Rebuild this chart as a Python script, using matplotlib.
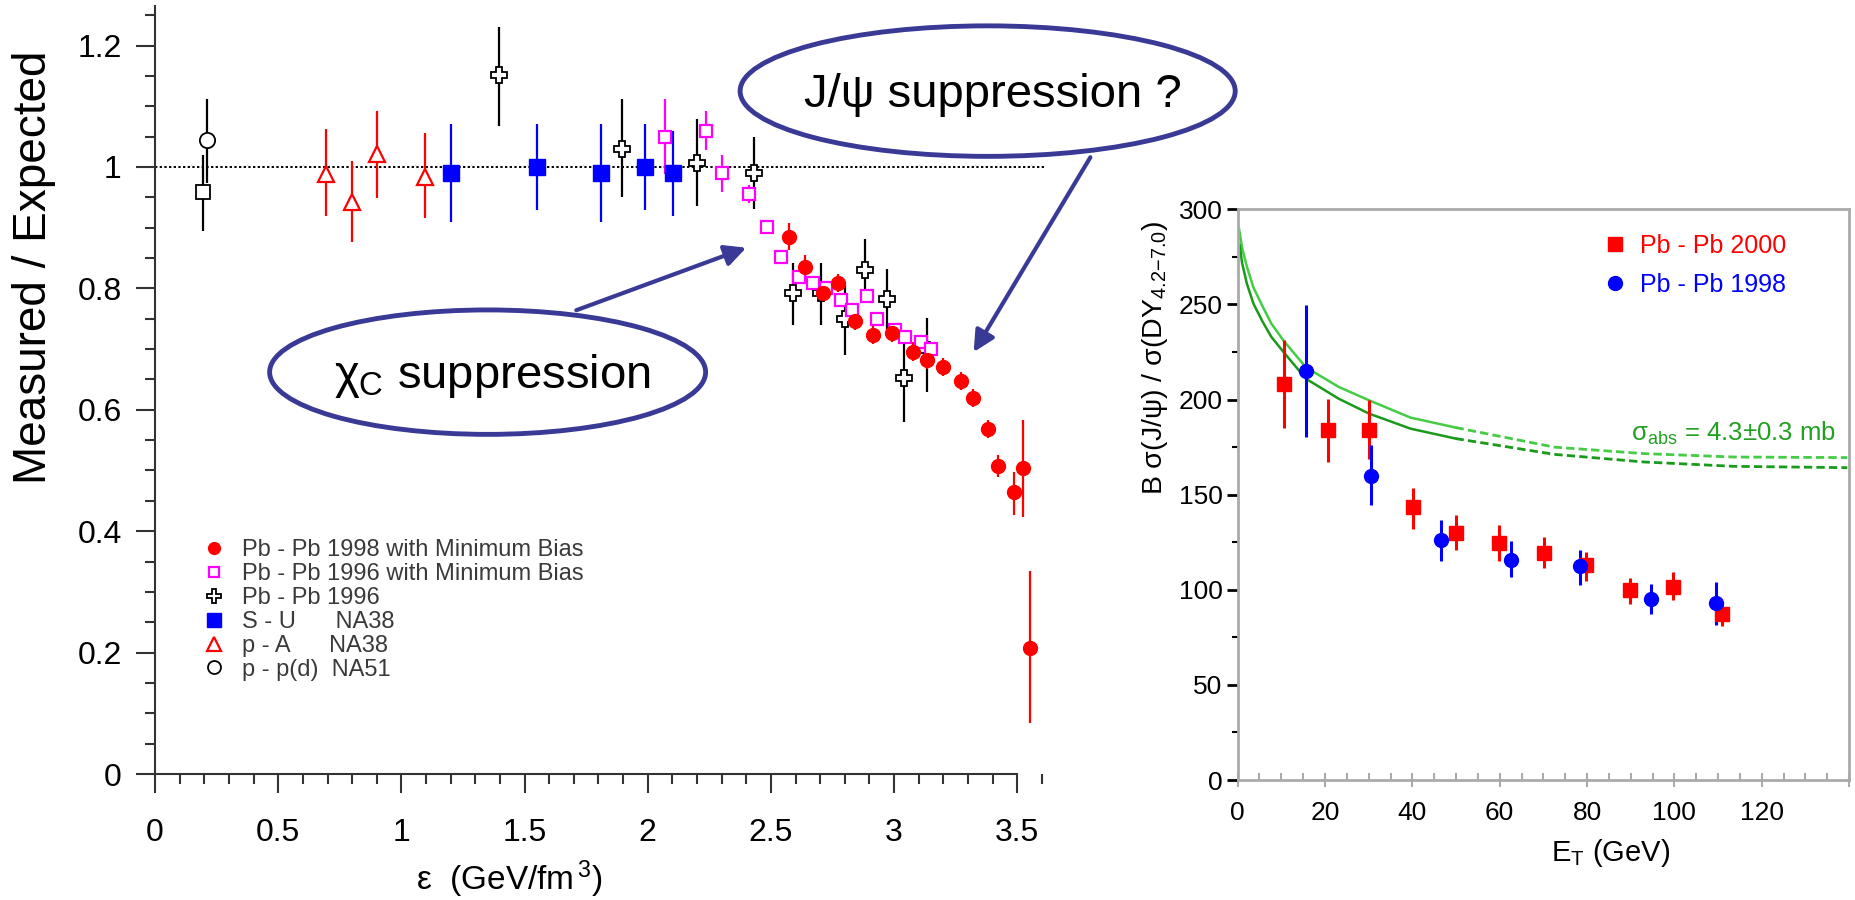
import matplotlib
matplotlib.use('Agg')
from matplotlib import pyplot as plt
from matplotlib.lines import Line2D
from matplotlib.patches import Ellipse
from matplotlib.ticker import MultipleLocator
import numpy as np

plt.rcParams['font.family'] = ['Liberation Sans', 'DejaVu Sans']
plt.rcParams['mathtext.fontset'] = 'custom'
plt.rcParams['mathtext.rm'] = 'Liberation Sans'
plt.rcParams['mathtext.it'] = 'Liberation Sans'
plt.rcParams['mathtext.bf'] = 'Liberation Sans:bold'

NARROW = ['Liberation Sans Narrow', 'Liberation Sans', 'DejaVu Sans']

# ---- left panel: measured / expected J/psi vs energy density ----
pp_circ_x, pp_circ_y, pp_circ_lo, pp_circ_hi = [0.212], [1.044], [0.974], [1.112]
pd_sq_x, pd_sq_y, pd_sq_lo, pd_sq_hi = [0.193], [0.958], [0.894], [1.020]

pa_x = [0.695, 0.80, 0.902, 1.096]
pa_y = [0.989, 0.942, 1.021, 0.984]
pa_lo = [0.919, 0.877, 0.949, 0.916]
pa_hi = [1.063, 1.010, 1.093, 1.056]

su_x = [1.20, 1.549, 1.81, 1.99, 2.104]
su_y = [0.99, 1.00, 0.99, 1.00, 0.99]
su_lo = [0.91, 0.929, 0.91, 0.929, 0.92]
su_hi = [1.07, 1.07, 1.07, 1.07, 1.06]

pb96_x = [1.397, 1.894, 2.20, 2.43, 2.588, 2.703, 2.80, 2.884, 2.971, 3.04, 3.135]
pb96_y = [1.151, 1.03, 1.007, 0.99, 0.792, 0.792, 0.75, 0.83, 0.782, 0.652, 0.699]
pb96_lo = [1.067, 0.95, 0.936, 0.93, 0.74, 0.74, 0.69, 0.778, 0.73, 0.58, 0.63]
pb96_hi = [1.231, 1.112, 1.079, 1.05, 0.841, 0.841, 0.805, 0.882, 0.832, 0.72, 0.751]

pb96mb_x = [2.07, 2.235, 2.30, 2.413, 2.486, 2.543, 2.616, 2.671, 2.725, 2.786,
            2.828, 2.891, 2.932, 3.004, 3.046, 3.109, 3.152]
pb96mb_y = [1.049, 1.059, 0.99, 0.956, 0.901, 0.851, 0.819, 0.809, 0.80, 0.781,
            0.764, 0.787, 0.75, 0.731, 0.72, 0.712, 0.70]
pb96mb_lo = [0.989, 1.028, 0.959, 0.94, 0.89, 0.84, 0.81, 0.80, 0.79, 0.77,
             0.755, 0.777, 0.74, 0.722, 0.71, 0.703, 0.69]
pb96mb_hi = [1.112, 1.093, 1.020, 0.97, 0.91, 0.86, 0.83, 0.82, 0.81, 0.79,
             0.775, 0.797, 0.76, 0.740, 0.73, 0.721, 0.71]

pb98_x = [2.575, 2.64, 2.71, 2.772, 2.84, 2.913, 2.99, 3.075, 3.135, 3.20,
          3.272, 3.322, 3.383, 3.42, 3.486, 3.525, 3.551]
pb98_y = [0.885, 0.836, 0.793, 0.809, 0.746, 0.723, 0.726, 0.696, 0.682, 0.671,
          0.647, 0.62, 0.568, 0.507, 0.464, 0.504, 0.208]
pb98_lo = [0.863, 0.815, 0.778, 0.794, 0.731, 0.708, 0.711, 0.681, 0.667, 0.656,
           0.632, 0.605, 0.553, 0.49, 0.427, 0.423, 0.084]
pb98_hi = [0.908, 0.855, 0.808, 0.824, 0.761, 0.738, 0.741, 0.711, 0.697, 0.686,
           0.662, 0.635, 0.583, 0.526, 0.498, 0.583, 0.335]

left_labels = ['Pb - Pb 1998 with Minimum Bias', 'Pb - Pb 1996 with Minimum Bias',
               'Pb - Pb 1996', 'S - U      NA38', 'p - A      NA38', 'p - p(d)  NA51']
ref_line_end = 3.61

# ---- right panel: B sigma(J/psi)/sigma(DY) vs E_T ----
pb00_x = [10.5, 20.6, 30.1, 40.2, 50.1, 59.8, 70.1, 79.7, 89.8, 99.7, 111.0]
pb00_y = [208.4, 183.9, 184.2, 143.5, 129.8, 124.7, 119.3, 112.8, 99.7, 101.7, 87.4]
pb00_lo = [185.0, 167.2, 169.0, 132.0, 120.7, 115.4, 111.4, 104.4, 92.7, 94.8, 81.0]
pb00_hi = [231.2, 200.2, 199.6, 153.7, 139.5, 134.2, 127.7, 119.8, 106.3, 109.3, 93.0]

pb98r_x = [15.6, 30.6, 46.6, 62.5, 78.5, 94.6, 109.5]
pb98r_y = [215.1, 159.8, 126.0, 115.8, 112.3, 95.3, 93.0]
pb98r_lo = [180.4, 144.4, 114.9, 106.7, 102.6, 87.4, 81.6]
pb98r_hi = [249.6, 175.9, 136.8, 125.4, 121.0, 103.1, 104.0]

abs_up_x = [0.3, 1.0, 2.1, 3.6, 5.7, 7.7, 10.5, 15.6, 23.1, 30.1, 39.6, 49.9]
abs_up_y = [290, 280, 270, 259, 249, 240, 231, 217, 206.7, 199.6, 190.5, 185.3]
abs_up_dx = [49.9, 72.5, 93.0, 113.6, 139.6]
abs_up_dy = [185.3, 175.0, 171.6, 169.8, 169.5]
abs_lo_x = [0.5, 1.0, 2.1, 3.6, 5.7, 7.7, 10.5, 15.6, 23.1, 30.1, 39.6, 49.9]
abs_lo_y = [281, 272, 261, 250.5, 241, 233, 225, 211, 200.5, 192.6, 184.7, 179.5]
abs_lo_dx = [49.9, 72.5, 93.0, 113.6, 139.6]
abs_lo_dy = [179.5, 171.2, 167.2, 164.9, 164.2]


def yerr(y, lo, hi):
    y, lo, hi = np.array(y), np.array(lo), np.array(hi)
    return [y - lo, hi - y]


fig = plt.figure(figsize=(18.55, 9), dpi=100)
ax = fig.add_axes([0.0836, 0.14, 0.4807, 0.8532])

styles = [
    dict(marker='o', ms=10, mfc='#ff0000', mec='#ff0000', color='#ff0000'),
    dict(marker='s', ms=9, mfc='white', mec='#ff00ff', mew=1.6, color='#ff00ff'),
    dict(marker='P', ms=12, mfc='white', mec='black', mew=1.3, color='black'),
    dict(marker='s', ms=12, mfc='#0000ff', mec='#0000ff', color='#0000ff'),
    dict(marker='^', ms=12, mfc='white', mec='#ff0000', mew=1.6, color='#ff0000'),
    dict(marker='o', ms=11, mfc='white', mec='black', mew=1.3, color='black'),
]
eb = dict(ls='none', elinewidth=1.6, capsize=0)

ax.errorbar(pd_sq_x, pd_sq_y, yerr=yerr(pd_sq_y, pd_sq_lo, pd_sq_hi),
            **eb, **dict(styles[5], marker='s', ms=10))
ax.errorbar(pp_circ_x, pp_circ_y, yerr=yerr(pp_circ_y, pp_circ_lo, pp_circ_hi), **eb, **styles[5])
ax.errorbar(pa_x, pa_y, yerr=yerr(pa_y, pa_lo, pa_hi), **eb, **styles[4])
ax.errorbar(su_x, su_y, yerr=yerr(su_y, su_lo, su_hi), **eb, **styles[3])
ax.errorbar(pb96_x, pb96_y, yerr=yerr(pb96_y, pb96_lo, pb96_hi), **eb, **styles[2])
ax.errorbar(pb96mb_x, pb96mb_y, yerr=yerr(pb96mb_y, pb96mb_lo, pb96mb_hi), **eb, **styles[1])
ax.errorbar(pb98_x, pb98_y, yerr=yerr(pb98_y, pb98_lo, pb98_hi), **eb, **styles[0])

ax.hlines(1, 0, ref_line_end, colors='black', linestyles=(0, (1.2, 1.2)), lw=1.4, zorder=0)

ax.set_xlim(0, 3.62)
ax.set_ylim(0, 1.265)
for s in ['top', 'right']:
    ax.spines[s].set_visible(False)
for s in ['left', 'bottom']:
    ax.spines[s].set_color('#333333')
    ax.spines[s].set_linewidth(1.5)
ax.spines['bottom'].set_bounds(0, 3.5)
ax.set_xticks([0, 0.5, 1, 1.5, 2, 2.5, 3, 3.5])
ax.set_xticklabels(['0', '0.5', '1', '1.5', '2', '2.5', '3', '3.5'])
ax.set_yticks([0, 0.2, 0.4, 0.6, 0.8, 1.0, 1.2])
ax.set_yticklabels(['0', '0.2', '0.4', '0.6', '0.8', '1', '1.2'])
ax.xaxis.set_minor_locator(MultipleLocator(0.1))
ax.yaxis.set_minor_locator(MultipleLocator(0.05))
ax.tick_params(which='major', length=14, width=1.5, color='#333333', labelsize=23, pad=10)
ax.tick_params(axis='x', which='major', pad=18)
ax.tick_params(which='minor', length=7, width=1.5, color='#333333')
ax.set_xlabel('ε  (GeV/fm$^{\\,3}$)', fontsize=24)
ax.xaxis.set_label_coords(0.397, -0.11)
ax.set_ylabel('Measured / Expected', fontsize=33)
ax.yaxis.set_label_coords(-0.111, 0.66)

handles = [Line2D([], [], ls='none', **dict(st, ms=st['ms'] * 0.85)) for st in styles]
ax.legend(handles, left_labels, loc='upper left', bbox_to_anchor=(0.04, 0.318),
          frameon=False, fontsize=17, labelcolor='#3a3a3a', handletextpad=0.55,
          labelspacing=0.08, handlelength=1.2, borderaxespad=0)

# callouts
ink = '#393996'
ax.add_patch(Ellipse((1.35, 0.662), 1.77, 0.205, fc='white', ec=ink, lw=3.5,
                     clip_on=False, zorder=5))
ax.add_patch(Ellipse((3.38, 1.125), 2.01, 0.215, fc='white', ec=ink, lw=3.5,
                     clip_on=False, zorder=5))
ax.text(1.37, 0.655, '$\\chi_{\\mathrm{C}}$ suppression', fontsize=34, ha='center',
        va='center', zorder=6, clip_on=False)
ax.text(3.40, 1.118, 'J/ψ suppression ?', fontsize=34, ha='center', va='center',
        zorder=6, clip_on=False)
arrow = dict(arrowstyle='-|>', lw=3, color=ink, mutation_scale=32, shrinkA=0, shrinkB=0)
ax.annotate('', xy=(2.40, 0.867), xytext=(1.71, 0.764), arrowprops=arrow,
            annotation_clip=False, zorder=6)
ax.annotate('', xy=(3.323, 0.695), xytext=(3.797, 1.016), arrowprops=arrow,
            annotation_clip=False, zorder=6)

# ---- right panel ----
ax2 = fig.add_axes([0.6672, 0.1333, 0.3296, 0.6341])
ax2.plot(abs_up_x, abs_up_y, color='#44cc44', lw=1.8)
ax2.plot(abs_up_dx, abs_up_dy, color='#44cc44', lw=2, ls=(0, (3, 1.5)))
ax2.plot(abs_lo_x, abs_lo_y, color='#1a9a1a', lw=1.8)
ax2.plot(abs_lo_dx, abs_lo_dy, color='#1a9a1a', lw=2, ls=(0, (3, 1.5)))

ax2.errorbar(pb00_x, pb00_y, yerr=yerr(pb00_y, pb00_lo, pb00_hi), ls='none',
             marker='s', ms=10, color='#ff0000', elinewidth=2.2, capsize=0)
ax2.errorbar(pb98r_x, pb98r_y, yerr=yerr(pb98r_y, pb98r_lo, pb98r_hi), ls='none',
             marker='o', ms=10, color='#0000ff', elinewidth=2.2, capsize=0)

ax2.text(90, 182, '$\\mathrm{\\sigma_{abs}}$ = 4.3±0.3 mb', color='#22a022',
         fontsize=18.5, va='center', family=NARROW)

ax2.set_xlim(0, 140)
ax2.set_ylim(0, 300)
for s in ax2.spines.values():
    s.set_color('#aaaaaa')
    s.set_linewidth(2)
ax2.set_xticks(range(0, 141, 20))
ax2.set_xticklabels(['0', '20', '40', '60', '80', '100', '120', ''], family=NARROW)
ax2.set_yticks(range(0, 301, 50))
ax2.set_yticklabels(['0', '50', '100', '150', '200', '250', '300'], family=NARROW)
ax2.xaxis.set_minor_locator(MultipleLocator(5))
ax2.yaxis.set_minor_locator(MultipleLocator(25))
ax2.tick_params(axis='x', which='major', direction='inout', length=10, width=1.5,
                color='#aaaaaa', labelsize=19, pad=10)
ax2.tick_params(axis='x', which='minor', direction='in', length=5, width=1.5, color='#aaaaaa')
ax2.tick_params(axis='y', which='major', direction='out', length=8, width=2,
                color='black', labelsize=19, pad=3)
ax2.tick_params(axis='y', which='minor', direction='out', length=4, width=1.5, color='black')
ax2.set_xlabel('E$_\\mathrm{T}$ (GeV)', fontsize=21, family=NARROW)
ax2.xaxis.set_label_coords(0.61, -0.1)
ax2.set_ylabel('B σ(J/ψ) / σ(DY$_{4.2\\mathrm{-}7.0}$)', fontsize=20.5, family=NARROW)
ax2.yaxis.set_label_coords(-0.11, 0.74)

rh = [Line2D([], [], ls='none', marker='s', ms=10, color='#ff0000'),
      Line2D([], [], ls='none', marker='o', ms=10, color='#0000ff')]
ax2.legend(rh, ['Pb - Pb 2000', 'Pb - Pb 1998'], loc='upper left',
           bbox_to_anchor=(0.58, 0.975), frameon=False, labelcolor=['#ff0000', '#0000ff'],
           prop=dict(family=NARROW, size=18), handletextpad=0.5, labelspacing=0.6,
           handlelength=1.0, borderaxespad=0)

fig.savefig('out.png', dpi=100)
